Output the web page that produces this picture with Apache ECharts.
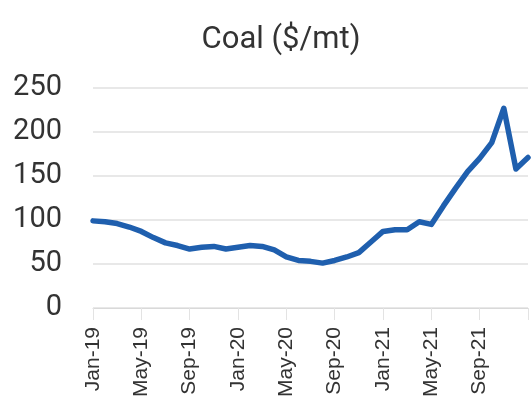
<!DOCTYPE html>
<html>
<head>
<meta charset="utf-8">
<title>Coal ($/mt)</title>
<script src="https://cdn.jsdelivr.net/npm/echarts@6/dist/echarts.min.js"></script>
<style>
  html, body { margin: 0; padding: 0; background: #ffffff; }
  #chart { width: 531px; height: 420px; }
</style>
</head>
<body>
<div id="chart"></div>
<script>
// Monthly coal price, Jan-19 through Jan-22
const months = [
  'Jan-19', 'Feb-19', 'Mar-19', 'Apr-19', 'May-19', 'Jun-19', 'Jul-19', 'Aug-19', 'Sep-19', 'Oct-19', 'Nov-19', 'Dec-19',
  'Jan-20', 'Feb-20', 'Mar-20', 'Apr-20', 'May-20', 'Jun-20', 'Jul-20', 'Aug-20', 'Sep-20', 'Oct-20', 'Nov-20', 'Dec-20',
  'Jan-21', 'Feb-21', 'Mar-21', 'Apr-21', 'May-21', 'Jun-21', 'Jul-21', 'Aug-21', 'Sep-21', 'Oct-21', 'Nov-21', 'Dec-21',
  'Jan-22'
];

const coalPrice = [
  99, 98, 96, 92, 87, 80, 74, 71, 67, 69, 70, 67,
  69, 71, 70, 66, 58, 54, 53, 51, 54, 58, 63, 75,
  87, 89, 89, 98, 95, 116, 136, 155, 170, 188, 227, 158,
  171
];

const yTicks = { min: 0, max: 250, step: 50 };

// every fourth month gets a label; the final tick sits on the right edge
const labelEvery = 4;

const chart = echarts.init(document.getElementById('chart'), null, { renderer: 'canvas' });

chart.setOption({
  animation: false,
  backgroundColor: '#ffffff',
  title: {
    text: 'Coal ($/mt)',
    left: 276,
    textAlign: 'center',
    top: 20,
    textStyle: {
      fontFamily: 'Roboto',
      fontSize: 31,
      fontWeight: 'normal',
      color: '#333333'
    }
  },
  grid: {
    left: 93,
    right: 3,
    top: 88,
    bottom: 112,
    containLabel: false
  },
  xAxis: {
    type: 'category',
    data: months,
    boundaryGap: false,
    axisLine: { show: true, lineStyle: { color: '#d9d9d9', width: 1 } },
    axisTick: {
      show: true,
      length: 12,
      interval: (idx) => idx % labelEvery === 0,
      lineStyle: { color: '#e3e3e3', width: 1 }
    },
    axisLabel: {
      rotate: 90,
      margin: 19,
      interval: (idx) => idx % labelEvery === 0 && idx < months.length - 1,
      fontFamily: 'Liberation Sans',
      fontSize: 21,
      color: '#333333'
    },
    splitLine: { show: false }
  },
  yAxis: {
    type: 'value',
    min: yTicks.min,
    max: yTicks.max,
    interval: yTicks.step,
    axisLine: { show: false },
    axisTick: { show: false },
    axisLabel: {
      margin: 31,
      fontFamily: 'Roboto',
      fontSize: 29,
      color: '#333333'
    },
    splitLine: { show: true, lineStyle: { color: '#e0e0e0', width: 1.5 } }
  },
  series: [{
    name: 'Coal',
    type: 'line',
    data: coalPrice,
    showSymbol: false,
    smooth: false,
    lineStyle: { color: '#1f5fae', width: 5.5, join: 'round', cap: 'round' },
    itemStyle: { color: '#1f5fae' }
  }]
});
</script>
</body>
</html>
